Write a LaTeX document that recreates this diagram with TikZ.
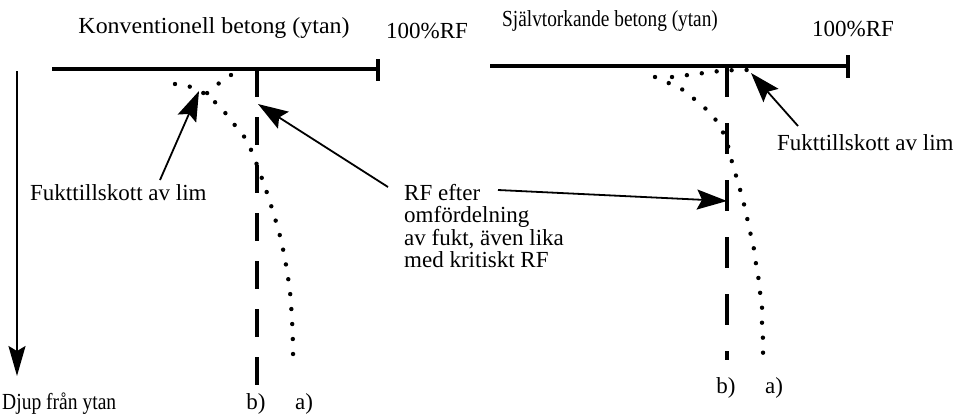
\documentclass[tikz,border=0pt]{standalone}
\usepackage{fontspec}
\usepackage{graphicx}
\setmainfont{Liberation Serif}
\usetikzlibrary{arrows.meta}
\begin{document}
\begin{tikzpicture}[x=1pt,y=-1pt,
  txt/.style={font=\fontsize{23}{22.5}\selectfont, inner sep=0pt},
  surfline/.style={line width=3.2pt},
  axisarrow/.style={line width=1.8pt, -{Stealth[length=30pt,width=17pt,inset=5pt]}},
  arr/.style={line width=1.8pt, -{Stealth[length=30pt,width=20pt,inset=5pt]}},
  dashb/.style={line width=3.4pt},
  dotcurve/.style={line width=4.4pt, line cap=round, dash pattern=on 0pt off 15pt}
]
\useasboundingbox[fill=white] (0,0) rectangle (963,416);

% ---------- texts ----------
\node[txt, anchor=base] (t1) at (214,33) {\scalebox{1.04}[1]{Konventionell betong (ytan)}};
\node[txt, anchor=base west] (rf1) at (386,38) {100\%RF};
\node[txt, anchor=base west] (t2) at (502,26) {\scalebox{0.84}[1]{Självtorkande betong (ytan)}};
\node[txt, anchor=base west] (rf2) at (812,36) {100\%RF};
\node[txt, anchor=base west] (depth) at (2,409) {\scalebox{0.85}[1]{Djup från ytan}};
\node[txt, anchor=base] (bL) at (256,409) {b)};
\node[txt, anchor=base] (aL) at (304,409) {a)};
\node[txt, anchor=base] (bR) at (726,393) {b)};
\node[txt, anchor=base] (aR) at (774,393) {a)};
\node[txt, anchor=base west] (glueL) at (30,200) {Fukttillskott av lim};
\node[txt, anchor=base west] (glueR) at (777,150) {Fukttillskott av lim};
\node[txt, anchor=north west, align=left] (rftxt) at (404,184)
  {RF efter\\omfördelning\\av fukt, även lika\\med kritiskt RF};

% ---------- coordinates ----------
\coordinate (L0) at (52,69);   \coordinate (L1) at (378,69);
\coordinate (L1t) at (378,59); \coordinate (L1b) at (378,81);
\coordinate (R0) at (490,66);  \coordinate (R1) at (848,66);
\coordinate (R1t) at (848,55); \coordinate (R1b) at (848,78);
\coordinate (ax0) at (17,71);  \coordinate (ax1) at (17,376);
\coordinate (bL0) at (257,69); \coordinate (bL1) at (257,385);
\coordinate (bR0) at (727,66); \coordinate (bR1) at (727,360);
\coordinate (gLtail) at (160,180); \coordinate (gLtip) at (199,91);
\coordinate (rfLtail) at (388,187); \coordinate (rfLtip) at (258,104);
\coordinate (rfRtail) at (498,190); \coordinate (rfRtip) at (727,201);
\coordinate (gRtail) at (798,126); \coordinate (gRtip) at (751,73);

% ---------- left panel ----------
\draw[surfline] (L0) -- (L1);
\draw[surfline] (L1t) -- (L1b);
\draw[axisarrow] (ax0) -- (ax1);
\draw[dashb, dash pattern=on 28pt off 20pt] (bL0) -- (bL1);
\draw[dotcurve] plot[smooth] coordinates {(175,84) (191,87) (205,94) (217,104) (227,115) (237,128) (247,141) (257,165) (266,190) (274,215) (281,240) (286,265) (290,292) (292,320) (293,345) (293,362)};
\draw[dotcurve] plot[smooth] coordinates {(231,75) (218,84) (206,94)};
\draw[arr] (gLtail) -- (gLtip);
\draw[arr] (rfLtail) -- (rfLtip);

% ---------- right panel ----------
\draw[surfline] (R0) -- (R1);
\draw[surfline] (R1t) -- (R1b);
\draw[dashb, dash pattern=on 31pt off 26pt] (bR0) -- (bR1);
\draw[dotcurve] plot[smooth] coordinates {(655,77) (666,82) (680,88) (693,98) (708,111) (720,126) (728,146) (733,166) (738,182) (742,197) (746,212) (749,228) (753,243) (755,258) (758,275) (760,292) (762,307) (762,323) (763,340) (763,357)};
\draw[dotcurve] plot[smooth] coordinates {(672,77) (688,75) (704,73) (720,71) (737,70) (754,70)};
\draw[arr] (rfRtail) -- (rfRtip);
\draw[arr] (gRtail) -- (gRtip);
\end{tikzpicture}
\end{document}
